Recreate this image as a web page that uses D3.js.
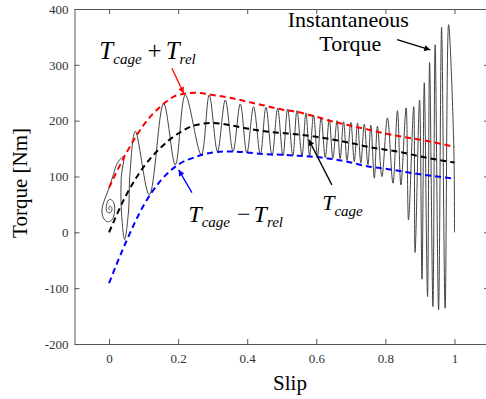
<!DOCTYPE html>
<html><head><meta charset="utf-8">
<script src="https://cdn.jsdelivr.net/npm/d3@7"></script>
<style>body{margin:0;background:#fff}svg{display:block}</style>
</head><body>
<svg id="c" width="486" height="399"></svg>
<script>
// ---- data ----
const xTickValues = [0, 0.2, 0.4, 0.6, 0.8, 1];
const xTickLabels = ["0", "0.2", "0.4", "0.6", "0.8", "1"];
const yTickValues = [-200, -100, 0, 100, 200, 300, 400];
const yTickLabels = ["-200", "-100", "0", "100", "200", "300", "400"];

const envSlip = [0, 0.05, 0.1, 0.15, 0.2, 0.25, 0.3, 0.35, 0.4, 0.45, 0.5, 0.55, 0.6, 0.65, 0.7, 0.75, 0.8, 0.85, 0.9, 0.95, 1];
const cagePlusRel  = [80, 142, 192, 226, 246, 250, 246, 241, 234, 227, 220, 215, 207, 198, 191, 184, 177, 171, 166, 160, 153];
const cageTorque   = [0, 67, 117, 152, 177, 192, 196, 192, 186, 181, 178, 175, 171, 166, 160, 153, 148, 143, 136, 130, 125];
const cageMinusRel = [-91, -16, 48, 93, 121, 135, 143, 145, 143, 140, 139, 137, 135, 131, 125, 118, 114, 109, 104, 100, 96];

// instantaneous torque trajectory (time order: slip 1 -> 0)
const instSlip = [1.0, 0.998, 0.983, 0.973, 0.9627, 0.954, 0.944, 0.9377, 0.928, 0.922, 0.9126, 0.906, 0.899, 0.886, 0.882, 0.867, 0.860, 0.845, 0.835, 0.822, 0.806, 0.790, 0.777, 0.768, 0.758, 0.7495, 0.739, 0.729, 0.7195, 0.710, 0.700, 0.689, 0.679, 0.669, 0.660, 0.648, 0.6376, 0.626, 0.614, 0.6036, 0.592, 0.5806, 0.570, 0.5585, 0.544, 0.532, 0.517, 0.5036, 0.488, 0.472, 0.4543, 0.438, 0.4185, 0.399, 0.380, 0.359, 0.3366, 0.314, 0.290, 0.267, 0.2208, 0.1919, 0.158, 0.1166, 0.0761,
  0.060, 0.0567, 0.0451, 0.0356, 0.0356, 0.0423, 0.024, 0.0124, -0.002, -0.015, -0.0203, -0.0165, -0.0049, 0.0081, 0.0162, 0.0124, 0.0009, -0.0064, -0.0078, -0.002, 0.0067, 0.0081, 0.0023, -0.0006, 0.0023];
const instTorque = [0, 155, 372, -136, 367, -139, 336, -133, 304, -115, 268, -84, 237, -36, 225, 22, 223, 85, 218, 88, 205, 100, 190, 97, 192, 121, 194, 124, 196, 127, 197, 129, 198, 132, 200, 133, 203, 134, 206, 136, 210, 137, 214, 137, 218, 137, 221, 137, 222, 137, 224, 139, 225, 142, 230, 145, 237, 145, 246, 139, 246, 121, 231, 67, 181,
  100, 40, -13, 40, 100, 136, 124, 103, 76, 55, 40, 26, 19, 22, 38, 55, 59, 51, 40, 35, 37, 44, 47, 42, 40];

// ---- chart ----
const serif = "'Liberation Serif','Times New Roman',Times,serif";
const svg = d3.select("#c");
const x = d3.scaleLinear().domain([-0.1, 1.1]).range([74.5, 489]);
const y = d3.scaleLinear().domain([-200, 400]).range([344, 9]);

const defs = svg.append("defs");
function marker(id, color) {
  defs.append("marker").attr("id", id).attr("viewBox", "0 0 10 10")
    .attr("refX", 10).attr("refY", 5).attr("markerWidth", 10).attr("markerHeight", 6)
    .attr("markerUnits", "userSpaceOnUse").attr("orient", "auto")
    .append("path").attr("d", "M0,0L10,5L0,10z").attr("fill", color);
}
marker("ar", "#ff0000"); marker("ab", "#0000ff"); marker("ak", "#000");

// axes
const axB = d3.axisBottom(x).tickValues(xTickValues).tickFormat((d, i) => xTickLabels[i]).tickSizeInner(-5).tickSizeOuter(0).tickPadding(10);
const axT = d3.axisTop(x).tickValues(xTickValues).tickFormat("").tickSizeInner(-5).tickSizeOuter(0);
const axL = d3.axisLeft(y).tickValues(yTickValues).tickFormat((d, i) => yTickLabels[i]).tickSizeInner(-5).tickSizeOuter(0).tickPadding(6);
const axR = d3.axisRight(y).tickValues(yTickValues).tickFormat("").tickSizeInner(-5).tickSizeOuter(0);
function styleAxis(g) {
  g.selectAll(".domain").attr("stroke", "#555");
  g.selectAll(".tick line").attr("stroke", "#555");
  g.selectAll("text").attr("font-family", serif).attr("font-size", 13).attr("fill", "#333");
}
svg.append("g").attr("transform", `translate(0,${y(-200)})`).call(axB).call(styleAxis);
svg.append("g").attr("transform", `translate(0,${y(400)})`).call(axT).call(styleAxis);
svg.append("g").attr("transform", `translate(${x(-0.1)},0)`).call(axL).call(styleAxis);
svg.append("g").attr("transform", `translate(${x(1.1)},0)`).call(axR).call(styleAxis);

// instantaneous torque
const instPts = instSlip.map((s, i) => [s, instTorque[i]]);
svg.append("path").datum(instPts)
  .attr("d", d3.line().x(d => x(d[0])).y(d => y(d[1])).curve(d3.curveCatmullRom.alpha(0.5)))
  .attr("fill", "none").attr("stroke", "#444").attr("stroke-width", 1);

// envelopes
function env(vals, color) {
  svg.append("path").datum(envSlip.map((s, i) => [s, vals[i]]))
    .attr("d", d3.line().x(d => x(d[0])).y(d => y(d[1])).curve(d3.curveMonotoneX))
    .attr("fill", "none").attr("stroke", color).attr("stroke-width", 2).attr("stroke-dasharray", "6,4");
}
env(cagePlusRel, "#ff0000");
env(cageTorque, "#000000");
env(cageMinusRel, "#0000ff");

// arrows (data coords)
function arrow(s0, t0, s1, t1, color, mk) {
  svg.append("line").attr("x1", x(s0)).attr("y1", y(t0)).attr("x2", x(s1)).attr("y2", y(t1))
    .attr("stroke", color).attr("stroke-width", 1.3).attr("marker-end", `url(#${mk})`);
}
arrow(0.182, 294, 0.216, 249, "#ff0000", "ar");
arrow(0.240, 71, 0.2015, 112, "#0000ff", "ab");
arrow(0.645, 85, 0.578, 166, "#000", "ak");
arrow(0.834, 345, 0.930, 327, "#000", "ak");

// math labels
function mathLabel(s, t, pieces, size, sub) {
  const tx = svg.append("text").attr("x", x(s)).attr("y", y(t))
    .attr("font-family", serif).attr("font-size", size).attr("fill", "#000");
  let down = false;
  pieces.forEach(p => {
    const ts = tx.append("tspan").text(p.s);
    if (p.i) ts.attr("font-style", "italic");
    if (p.dx) ts.attr("dx", p.dx);
    if (p.sub) {
      ts.attr("font-size", sub);
      if (!down) { ts.attr("dy", sub * 0.38); down = true; }
    } else if (down) { ts.attr("dy", -sub * 0.38); down = false; }
  });
}
mathLabel(-0.028, 311, [{s: "T", i: true}, {s: "cage", i: true, sub: true}, {s: "+", dx: 6}, {s: "T", i: true, dx: 4}, {s: "rel", i: true, sub: true}], 25, 15);
mathLabel(0.2295, 19, [{s: "T", i: true}, {s: "cage", i: true, sub: true}, {s: "\u2212", dx: 7}, {s: "T", i: true, dx: 3}, {s: "rel", i: true, sub: true}], 24, 15);
mathLabel(0.617, 40, [{s: "T", i: true}, {s: "cage", i: true, sub: true}], 22, 15);

// Instantaneous torque label
svg.append("text").attr("x", x(0.6926)).attr("y", y(368.6)).attr("text-anchor", "middle")
  .attr("font-family", serif).attr("font-size", 22).text("Instantaneous");
svg.append("text").attr("x", x(0.6985)).attr("y", y(324)).attr("text-anchor", "middle")
  .attr("font-family", serif).attr("font-size", 22).text("Torque");

// axis titles
svg.append("text").attr("transform", "translate(27,183) rotate(-90)").attr("text-anchor", "middle")
  .attr("font-family", serif).attr("font-size", 21).text("Torque [Nm]");
svg.append("text").attr("x", 290).attr("y", 390).attr("text-anchor", "middle")
  .attr("font-family", serif).attr("font-size", 21).text("Slip");
</script>
</body></html>
